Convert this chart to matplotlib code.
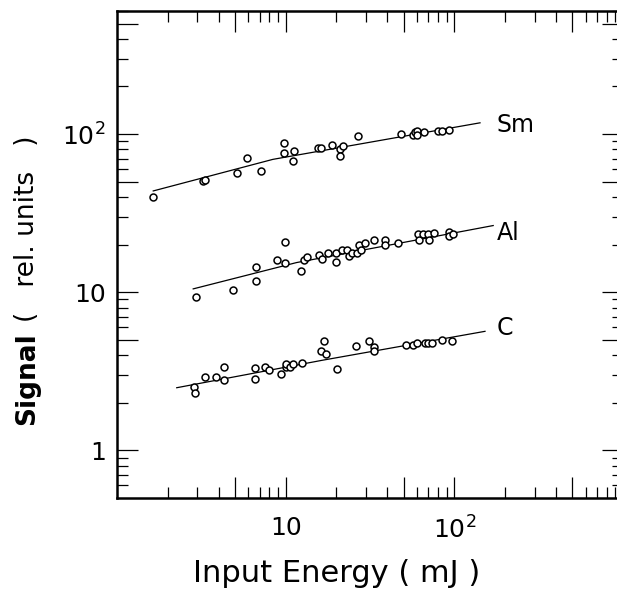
import matplotlib
matplotlib.use('Agg')
import matplotlib.pyplot as plt
from matplotlib.ticker import FixedLocator, NullFormatter

# ---------------- data ----------------
sm_x = [1.63, 3.22, 3.32, 5.16, 5.92, 7.1, 9.81, 9.81, 11.2, 11.1, 15.6, 16.3,
        18.9, 21.0, 21.8, 21.1, 27.0, 48.1, 57.2, 58.7, 60.3, 60.3, 66.1, 79.7, 84.2, 92.6]
sm_y = [40.1, 50.5, 51.0, 57.0, 70.3, 58.4, 87.4, 75.5, 78.1, 67.6, 81.6, 81.6,
        85.3, 80.0, 84.4, 72.3, 96.7, 100.4, 99.0, 102.6, 104.5, 98.6, 103.5, 104.5, 104.5, 105.5]

al_x = [2.93, 4.89, 6.64, 6.67, 8.84, 9.86, 9.94, 12.3, 12.9, 13.3, 15.7, 16.4, 17.9,
        19.8, 19.9, 21.7, 23.2, 23.7, 24.6, 26.4, 27.3, 27.9, 29.5, 33.6, 38.8, 38.6,
        46.5, 61.2, 62.1, 65.5, 70.2, 70.9, 76.1, 93.1, 93.1, 98.7]
al_y = [9.37, 10.4, 11.7, 14.5, 16.0, 20.7, 15.4, 13.7, 15.9, 16.6, 17.2, 16.2, 17.7,
        17.7, 15.5, 18.4, 18.6, 16.9, 17.8, 17.8, 19.9, 18.6, 20.5, 21.4, 21.5, 19.8,
        20.5, 23.2, 21.5, 23.2, 23.2, 21.5, 23.6, 24.0, 22.7, 23.4]

c_x = [2.86, 2.89, 3.32, 3.84, 4.29, 4.33, 6.58, 6.58, 7.57, 8.0, 9.38, 10.0, 10.1,
       10.6, 11.1, 12.5, 16.8, 16.1, 17.4, 20.2, 26.1, 31.1, 33.4, 33.4, 51.5, 57.1,
       59.8, 67.0, 70.2, 73.4, 84.2, 96.6]
c_y = [2.51, 2.32, 2.93, 2.93, 3.35, 2.77, 3.31, 2.83, 3.39, 3.24, 3.06, 3.35, 3.54,
       3.39, 3.54, 3.55, 4.92, 4.26, 4.07, 3.28, 4.55, 4.94, 4.53, 4.23, 4.62, 4.62,
       4.75, 4.75, 4.75, 4.75, 4.97, 4.92]

# fitted lines (vertices of the drawn guide lines)
sm_fit_x = [1.64, 8.4, 142]
sm_fit_y = [43.7, 69.2, 117.8]
al_fit_x = [2.83, 11.6, 170]
al_fit_y = [10.5, 15.4, 26.4]
c_fit_x = [2.26, 16.4, 152]
c_fit_y = [2.49, 3.71, 5.66]

series_names = ['Sm', 'Al', 'C']
name_x = [179, 179, 179]
name_y = [114, 23.7, 5.97]

x_tick_values = [10, 100]
x_tick_labels = ['10', r'$10^{2}$']
y_tick_values = [1, 10, 100]
y_tick_labels = ['1', '10', r'$10^{2}$']

# ---------------- figure ----------------
plt.rcParams['font.family'] = ['DejaVu Sans']
fig = plt.figure(figsize=(6.17, 5.90), dpi=100)
ax = fig.add_axes([117 / 617, 92 / 590, 506 / 617, 487 / 590])

for xs, ys, fx, fy in [(sm_x, sm_y, sm_fit_x, sm_fit_y),
                       (al_x, al_y, al_fit_x, al_fit_y),
                       (c_x, c_y, c_fit_x, c_fit_y)]:
    ax.plot(fx, fy, '-', color='black', lw=0.9, zorder=2)
    ax.plot(xs, ys, 'o', mfc='white', mec='black', ms=5, mew=1.1, zorder=3)

for name, tx, ty in zip(series_names, name_x, name_y):
    ax.text(tx, ty, name, fontsize=17, ha='left', va='center')

ax.set_xscale('log')
ax.set_yscale('log')
ax.set_xlim(1, 1000)
ax.set_ylim(0.5, 600)

# long ticks at 1 and 5 per decade, labels only at powers of ten
x_long = [5, 10, 50, 100, 500]
y_long = [1, 5, 10, 50, 100, 500]
ax.set_xticks(x_long, labels=[x_tick_labels[x_tick_values.index(v)] if v in x_tick_values else ''
                              for v in x_long])
ax.set_yticks(y_long, labels=[y_tick_labels[y_tick_values.index(v)] if v in y_tick_values else ''
                              for v in y_long])
x_minor = [k * 10 ** d for d in range(0, 3) for k in (2, 3, 4, 6, 7, 8, 9)]
y_minor = [k * 10 ** d for d in range(-1, 3) for k in (2, 3, 4, 6, 7, 8, 9)]
ax.xaxis.set_minor_locator(FixedLocator(x_minor))
ax.yaxis.set_minor_locator(FixedLocator(y_minor))
ax.xaxis.set_minor_formatter(NullFormatter())
ax.yaxis.set_minor_formatter(NullFormatter())

ax.tick_params(which='both', direction='in', top=True, right=True, width=0.9,
               labelsize=18, color='black')
ax.tick_params(which='major', length=15)
ax.tick_params(which='minor', length=8)
ax.tick_params(axis='x', which='major', pad=13)
ax.tick_params(axis='y', which='major', pad=8)
for sp in ax.spines.values():
    sp.set_linewidth(1.8)

fig.text(337 / 617, 17 / 590, 'Input Energy ( mJ )', ha='center', va='center', fontsize=22)
fig.text(27 / 617, (590 - 425) / 590, 'Signal', rotation=90, ha='center', va='bottom',
         fontsize=19, fontweight='bold')
fig.text(27 / 617, (590 - 322) / 590, '(   rel. units   )', rotation=90, ha='center',
         va='bottom', fontsize=19)

fig.savefig('out.png', dpi=100)
